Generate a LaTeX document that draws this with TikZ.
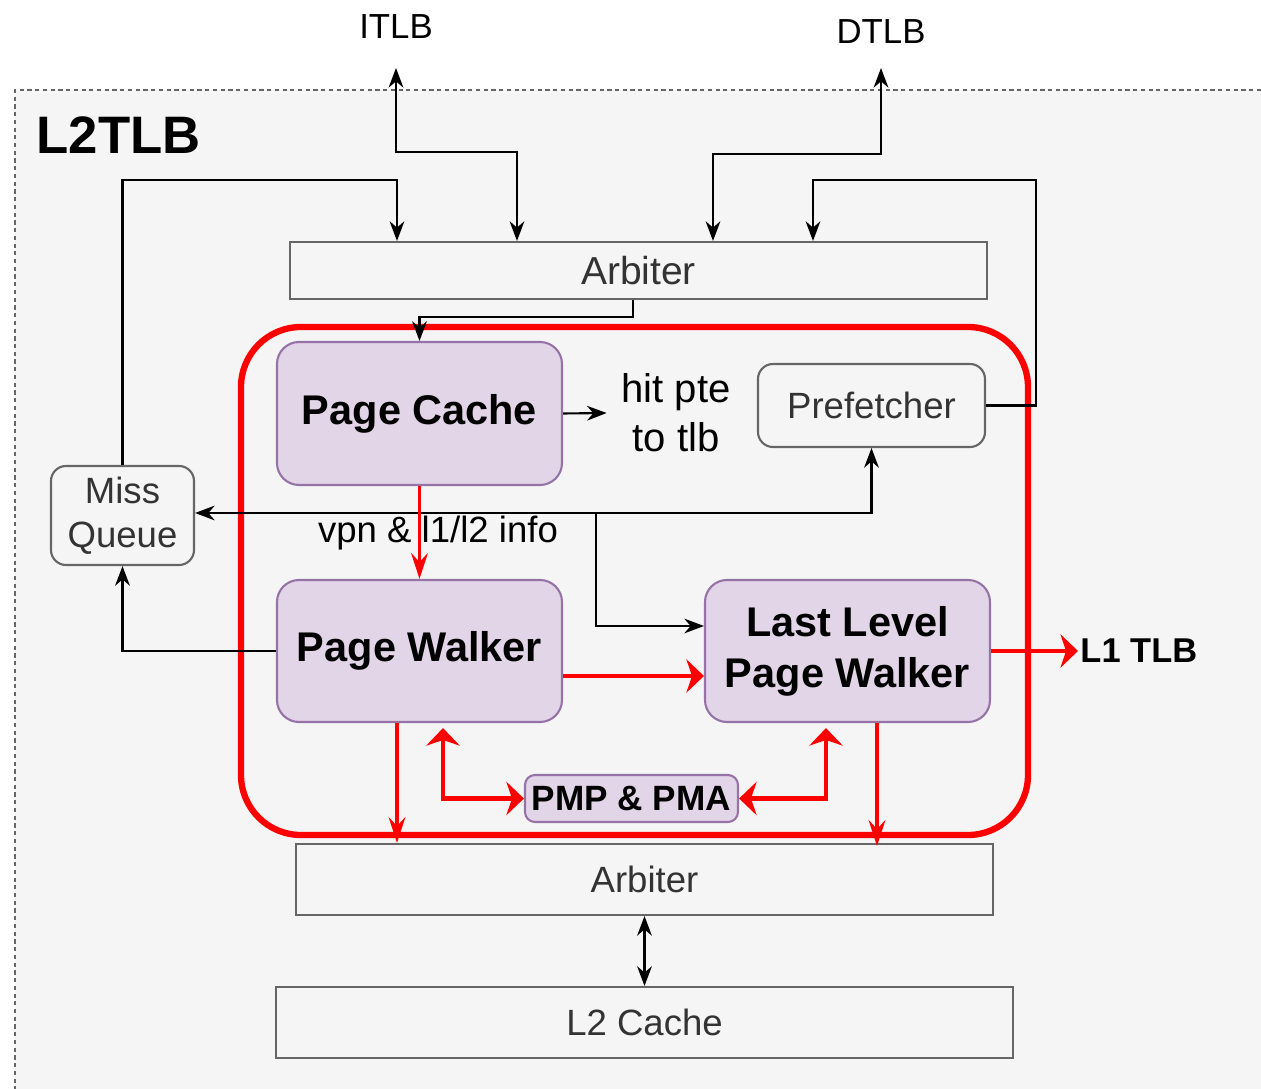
\documentclass[tikz,border=0pt]{standalone}
\usepackage{fontspec}
\setmainfont{Liberation Sans}
\usetikzlibrary{arrows.meta}

\definecolor{bggray}{HTML}{F5F5F5}
\definecolor{edgegray}{HTML}{666666}
\definecolor{txtgray}{HTML}{333333}
\definecolor{lilac}{HTML}{E1D5E7}
\definecolor{lilacedge}{HTML}{9673A6}
\definecolor{ptwred}{HTML}{FF0000}

\tikzset{
		box/.style={draw=edgegray, fill=bggray, text=txtgray, line width=0.6pt, inner sep=0pt},
		rbox/.style={box, rounded corners=0.15cm},
		block/.style={draw=lilacedge, fill=lilac, line width=0.6pt, inner sep=0pt, rounded corners=0.22cm, align=center, font=\fontsize{11.8}{14.5}\selectfont\bfseries},
		blackhead/.tip={Stealth[length=5.6pt,width=4.2pt,inset=1.8pt]},
		thinhead/.tip={Stealth[length=7.4pt,width=4.8pt,inset=2.6pt]},
		fathead/.tip={Stealth[length=5pt,width=9.5pt,inset=1.6pt]},
		link/.style={black, line width=0.6pt, -blackhead},
		bilink/.style={black, line width=0.6pt, blackhead-blackhead},
		redlink/.style={ptwred, line width=0.9pt, -thinhead},
		redthick/.style={ptwred, line width=1.3pt, -fathead},
		redbi/.style={ptwred, line width=1.3pt, fathead-fathead}
	}

\begin{document}
\begin{tikzpicture}
	
	\useasboundingbox (0,0) rectangle (12.61,-10.89);
	
	% L2TLB frame
	\fill[bggray] (0.15,-0.9) rectangle (12.61,-10.89);
	\draw[edgegray, line width=0.5pt, dash pattern=on 1.2pt off 1pt] (12.61,-0.9) -- (0.15,-0.9) -- (0.15,-10.89);
	\node (l2tlb) at (0.36,-1.35) [anchor=west, inner sep=0pt, font=\fontsize{15}{18}\selectfont\bfseries] {L2TLB};
	
	\node (itlb) at (3.96,-0.27) [font=\fontsize{9.9}{12}\selectfont] {ITLB};
	\node (dtlb) at (8.81,-0.32) [font=\fontsize{9.9}{12}\selectfont] {DTLB};
	\coordinate (itlbport) at (3.96,-0.68);
	\coordinate (dtlbport) at (8.81,-0.68);
	
	\node (arbtop) at (6.385,-2.705) [box, minimum width=6.97cm, minimum height=0.57cm, font=\fontsize{11.1}{13}\selectfont] {Arbiter};
	
	% PTW
	\draw[ptwred, line width=1.8pt, rounded corners=0.6cm] (2.41,-3.27) rectangle (10.28,-8.35);
	
	\node (pc) at (4.195,-4.135) [block, minimum width=2.85cm, minimum height=1.43cm] {Page Cache};
	\node (hit) at (6.76,-4.13) [align=center, inner sep=4pt, font=\fontsize{11.4}{14}\selectfont] {hit pte\\to tlb};
	\node (pf) at (8.715,-4.055) [rbox, minimum width=2.27cm, minimum height=0.83cm, font=\fontsize{10.4}{12.5}\selectfont] {Prefetcher};
	\node (mq) at (1.225,-5.155) [rbox, minimum width=1.43cm, minimum height=0.99cm, align=center, font=\fontsize{10.4}{12.4}\selectfont] {Miss\\Queue};
	\node (pw) at (4.195,-6.51) [block, minimum width=2.85cm, minimum height=1.42cm] {Page Walker};
	\node (llpw) at (8.475,-6.51) [block, minimum width=2.85cm, minimum height=1.42cm] {Last Level\\Page Walker};
	\node (pmp) at (6.315,-7.985) [block, rounded corners=0.1cm, minimum width=2.13cm, minimum height=0.47cm, font=\fontsize{10}{12}\selectfont\bfseries] {PMP \& PMA};
	\node (l1tlb) at (10.78,-6.51) [anchor=west, inner sep=0.5pt, font=\fontsize{9.8}{12}\selectfont\bfseries] {L1 TLB};
	
	\node (arbbot) at (6.445,-8.795) [box, minimum width=6.97cm, minimum height=0.71cm, font=\fontsize{10.4}{12.5}\selectfont] {Arbiter};
	\node (l2c) at (6.445,-10.225) [box, minimum width=7.37cm, minimum height=0.71cm, font=\fontsize{10.4}{12.5}\selectfont] {L2 Cache};
	
	% requests into the top arbiter
	\draw[bilink] (itlbport) -- ++(0,-0.84) -| ([xshift=-1.215cm]arbtop.north);
	\draw[bilink] (dtlbport) -- ++(0,-0.86) -| ([xshift=0.745cm]arbtop.north);
	\draw[link] (mq.north) -- ++(0,2.85) -| ([xshift=-2.415cm]arbtop.north);
	\draw[link] (pf.east) -- ++(0.5,0) |- ([xshift=1.745cm,yshift=0.61cm]arbtop.north) -- ([xshift=1.745cm]arbtop.north);
	\draw[link] ([xshift=-0.055cm]arbtop.south) -- ++(0,-0.17) -| (pc.north);
	
	\draw[link] (pc.east) -- (hit.west);
	
	% miss path
	\coordinate (fork) at (5.96,-5.13);
	\draw[link] (fork) -- (mq.east |- fork);
	\draw[link] (fork) -| (pf.south);
	\draw[link] (fork) |- ([yshift=0.25cm]llpw.west);
	\draw[link] (pw.west) -| (mq.south);
	
	\draw[redlink] (pc.south) -- (pw.north);
	\node (vpn) at (4.38,-5.33) [font=\fontsize{10.4}{12.5}\selectfont] {vpn \& l1/l2 info};
	
	\draw[redthick] ([yshift=-0.25cm]pw.east) -- ([yshift=-0.25cm]llpw.west);
	\draw[redthick] (llpw.east) -- (llpw.east -| l1tlb.west);
	\draw[redbi] ([xshift=0.235cm,yshift=-0.05cm]pw.south) |- (pmp.west);
	\draw[redbi] ([xshift=-0.215cm,yshift=-0.05cm]llpw.south) |- (pmp.east);
	
	\draw[redlink] ([xshift=-0.225cm]pw.south) -- ([xshift=-0.225cm]pw.south |- arbbot.north);
	\draw[redlink] ([xshift=0.295cm]llpw.south) -- ([xshift=0.295cm,yshift=-0.03cm]llpw.south |- arbbot.north);
	
	\draw[bilink] (arbbot.south) -- (l2c.north);
	
\end{tikzpicture}
\end{document}
